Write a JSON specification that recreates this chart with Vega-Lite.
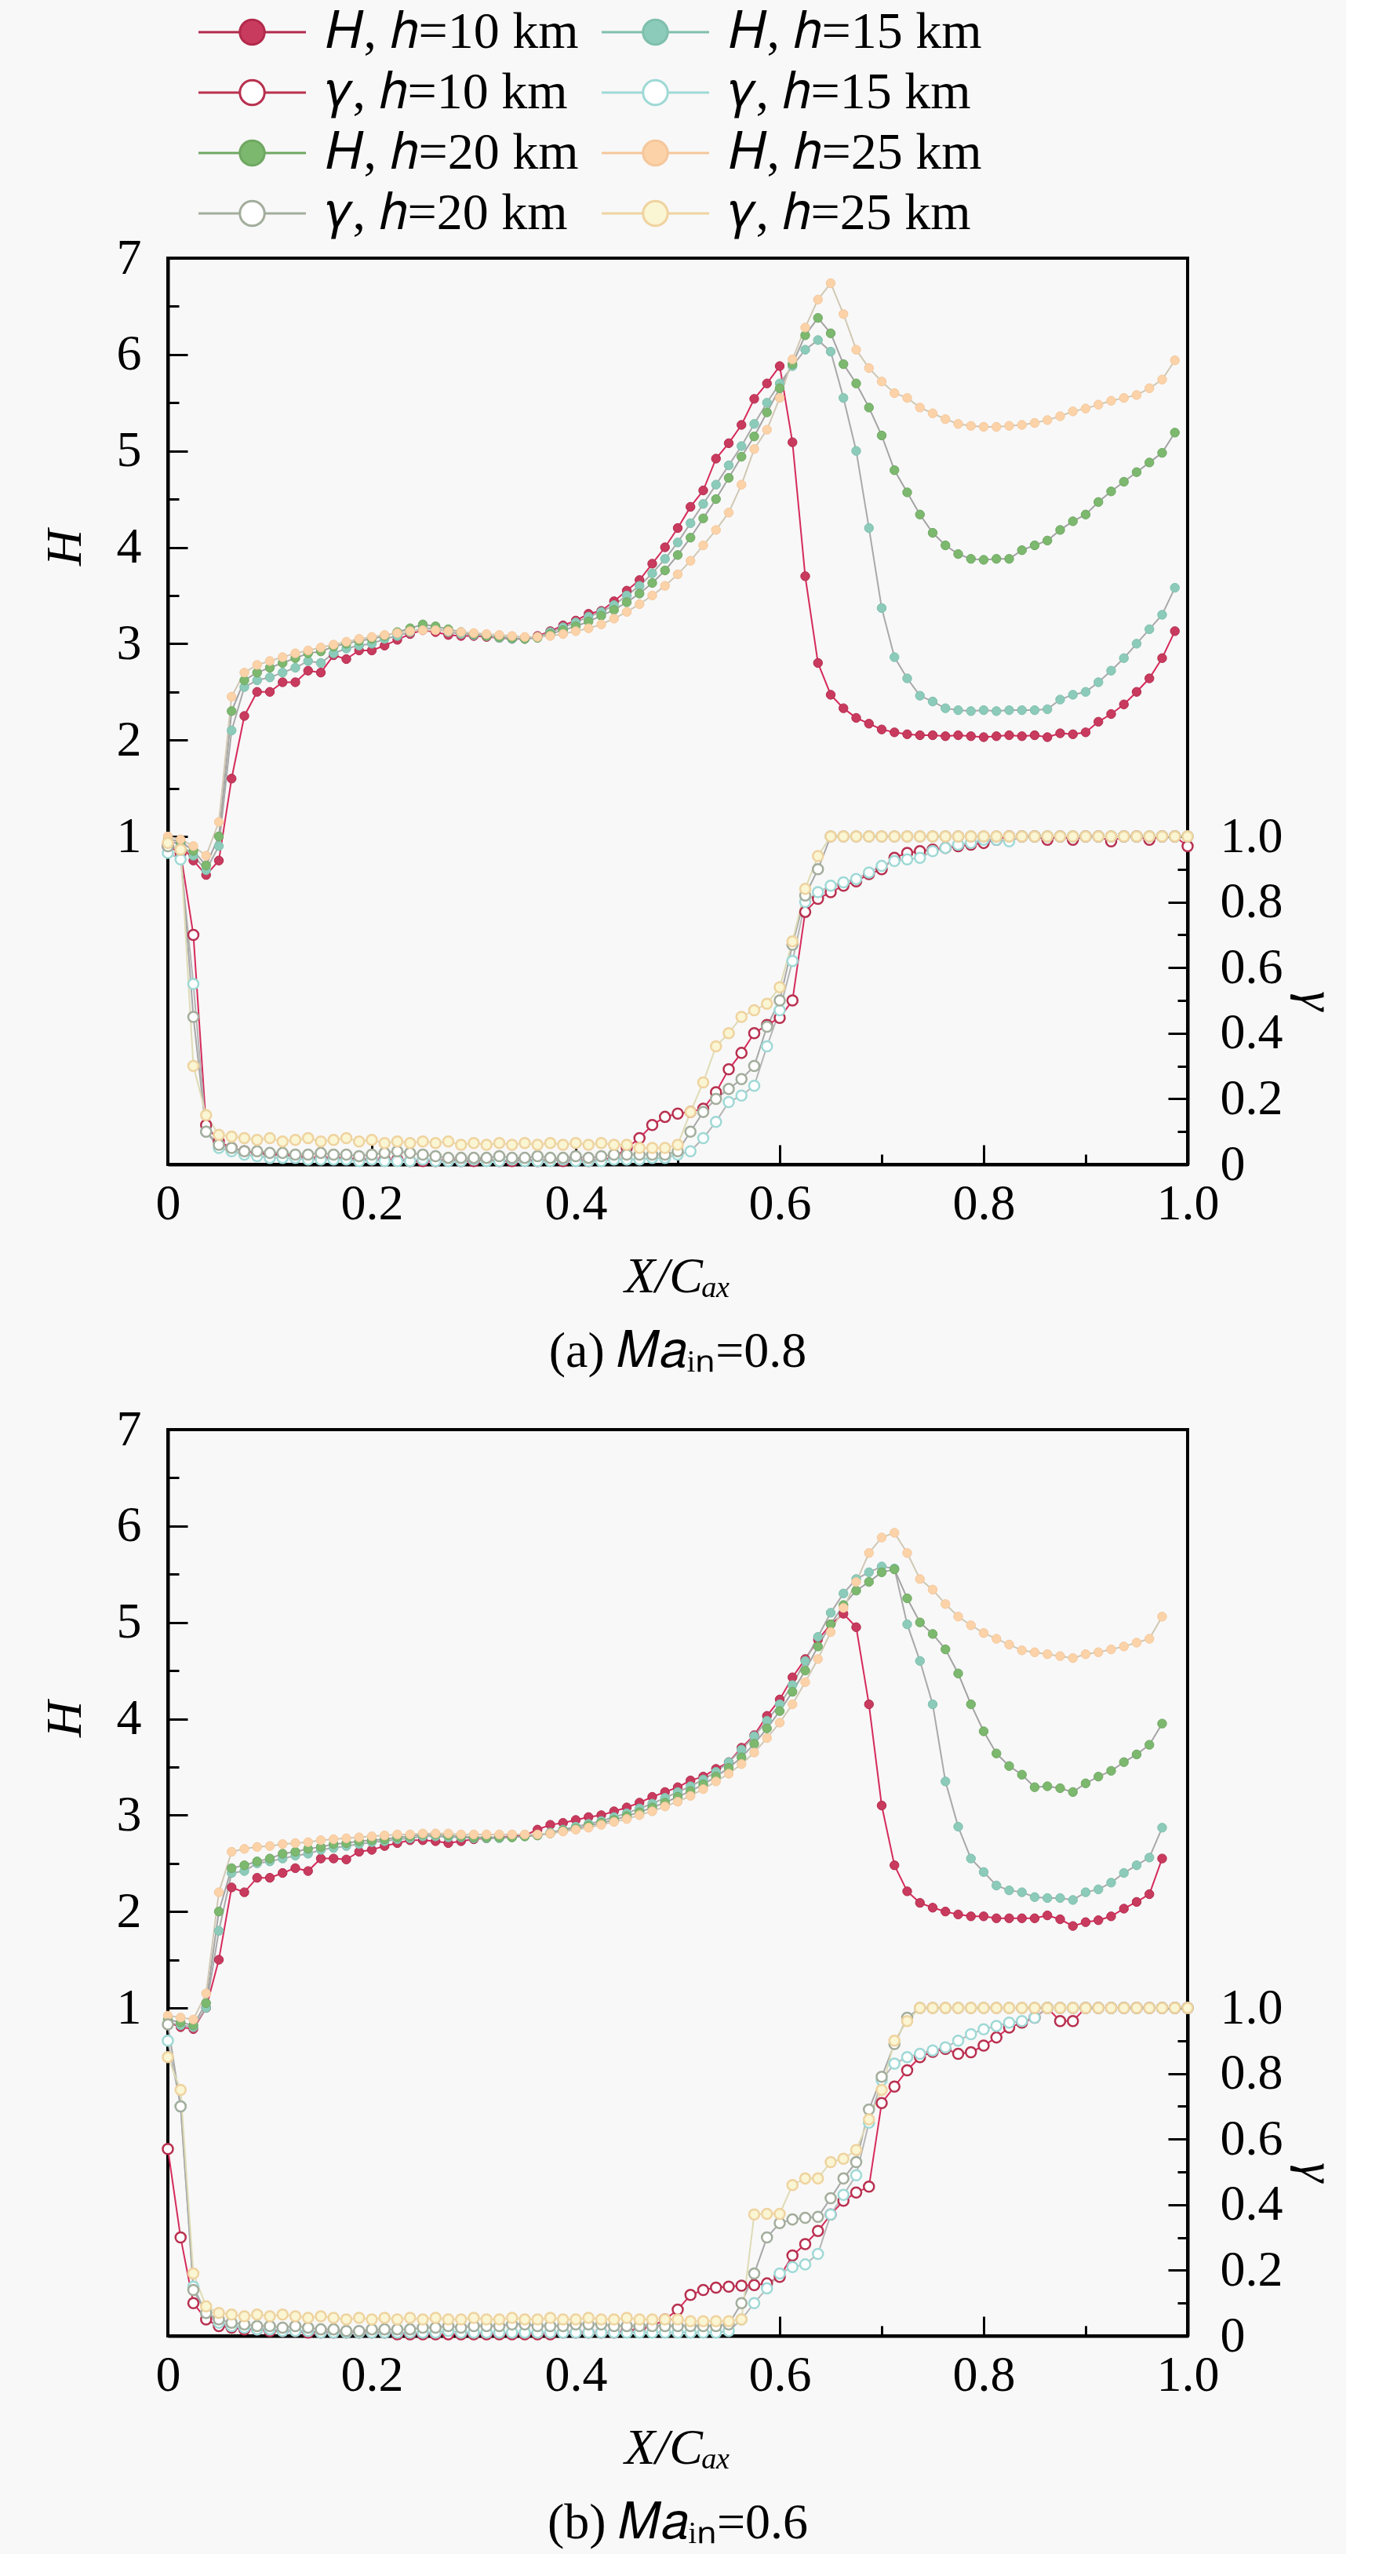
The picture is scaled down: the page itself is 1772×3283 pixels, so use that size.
{
  "$schema": "https://vega.github.io/schema/vega-lite/v6.json",
  "background": "#f8f8f8",
  "padding": {"left": 49, "top": 6, "right": 5, "bottom": 5},
  "config": {
    "font": "Liberation Serif",
    "view": {"stroke": "black", "strokeWidth": 4},
    "axis": {
      "domainColor": "black", "domainWidth": 4, "tickColor": "black", "tickWidth": 3,
      "labelColor": "black", "labelFont": "Liberation Serif", "labelFontSize": 64,
      "titleFont": "Liberation Serif", "titleFontSize": 64, "titleFontWeight": "normal", "titleFontStyle": "italic", "titleColor": "black",
      "grid": false, "labelFlush": false, "labelOverlap": false, "labelBound": false
    },
    "legend": {
      "orient": "none", "legendX": 39, "legendY": -321, "columns": 2,
      "symbolType": "M-2.175,0L-0.5,0M0.5,0L2.175,0M0.5,0A0.5,0.5,0,1,1,-0.5,0A0.5,0.5,0,1,1,0.5,0Z",
      "symbolSize": 3969, "symbolOffset": 35.5, "symbolStrokeWidth": 3, "labelFont": "Liberation Serif", "labelFontSize": 66,
      "labelColor": "black", "labelOffset": 61, "labelLimit": 0, "rowPadding": 11, "columnPadding": 18, "padding": 0
    },
    "title": {"font": "Liberation Serif", "fontSize": 64, "fontWeight": "normal", "color": "black", "orient": "bottom", "anchor": "middle", "frame": "group", "offset": 32}
  },
  "datasets": {
    "pa": [
      {"x":0,"a":0.95,"b":0.95,"c":0.97,"d":1,"e":0.97,"f":0.95,"g":0.97,"h":0.98},
      {"x":0.0125,"a":0.92,"b":0.92,"c":0.95,"d":0.97,"e":0.95,"f":0.93,"g":0.96,"h":0.96},
      {"x":0.025,"a":0.75,"b":0.8,"c":0.85,"d":0.9,"e":0.7,"f":0.55,"g":0.45,"h":0.3},
      {"x":0.0375,"a":0.6,"b":0.65,"c":0.7,"d":0.8,"e":0.12,"f":0.1,"g":0.1,"h":0.15},
      {"x":0.05,"a":0.75,"b":0.9,"c":1,"d":1.15,"e":0.07,"f":0.05,"g":0.06,"h":0.09},
      {"x":0.0625,"a":1.6,"b":2.1,"c":2.3,"d":2.45,"e":0.05,"f":0.04,"g":0.05,"h":0.085},
      {"x":0.075,"a":2.25,"b":2.55,"c":2.62,"d":2.7,"e":0.04,"f":0.03,"g":0.04,"h":0.08},
      {"x":0.0875,"a":2.5,"b":2.62,"c":2.7,"d":2.78,"e":0.035,"f":0.025,"g":0.04,"h":0.075},
      {"x":0.1,"a":2.5,"b":2.65,"c":2.75,"d":2.82,"e":0.03,"f":0.02,"g":0.035,"h":0.08},
      {"x":0.1125,"a":2.6,"b":2.7,"c":2.8,"d":2.86,"e":0.03,"f":0.02,"g":0.035,"h":0.07},
      {"x":0.125,"a":2.6,"b":2.75,"c":2.85,"d":2.9,"e":0.025,"f":0.02,"g":0.03,"h":0.075},
      {"x":0.1375,"a":2.72,"b":2.82,"c":2.9,"d":2.93,"e":0.02,"f":0.015,"g":0.03,"h":0.08},
      {"x":0.15,"a":2.7,"b":2.8,"c":2.92,"d":2.96,"e":0.02,"f":0.015,"g":0.035,"h":0.07},
      {"x":0.1625,"a":2.88,"b":2.9,"c":2.97,"d":2.99,"e":0.02,"f":0.015,"g":0.03,"h":0.075},
      {"x":0.175,"a":2.84,"b":2.95,"c":3,"d":3.02,"e":0.02,"f":0.015,"g":0.03,"h":0.08},
      {"x":0.1875,"a":2.93,"b":2.98,"c":3.03,"d":3.05,"e":0.015,"f":0.01,"g":0.025,"h":0.07},
      {"x":0.2,"a":2.93,"b":3,"c":3.05,"d":3.07,"e":0.015,"f":0.015,"g":0.03,"h":0.075},
      {"x":0.2125,"a":2.98,"b":3.05,"c":3.08,"d":3.09,"e":0.015,"f":0.01,"g":0.035,"h":0.065},
      {"x":0.225,"a":3.04,"b":3.08,"c":3.12,"d":3.11,"e":0.015,"f":0.01,"g":0.04,"h":0.07},
      {"x":0.2375,"a":3.1,"b":3.12,"c":3.16,"d":3.13,"e":0.01,"f":0.01,"g":0.035,"h":0.065},
      {"x":0.25,"a":3.14,"b":3.16,"c":3.2,"d":3.14,"e":0.01,"f":0.015,"g":0.03,"h":0.07},
      {"x":0.2625,"a":3.12,"b":3.16,"c":3.18,"d":3.14,"e":0.01,"f":0.01,"g":0.025,"h":0.065},
      {"x":0.275,"a":3.09,"b":3.12,"c":3.15,"d":3.13,"e":0.015,"f":0.01,"g":0.02,"h":0.07},
      {"x":0.2875,"a":3.08,"b":3.1,"c":3.12,"d":3.12,"e":0.01,"f":0.01,"g":0.02,"h":0.06},
      {"x":0.3,"a":3.08,"b":3.09,"c":3.1,"d":3.11,"e":0.01,"f":0.015,"g":0.02,"h":0.065},
      {"x":0.3125,"a":3.07,"b":3.08,"c":3.08,"d":3.1,"e":0.015,"f":0.01,"g":0.02,"h":0.06},
      {"x":0.325,"a":3.06,"b":3.06,"c":3.07,"d":3.09,"e":0.01,"f":0.01,"g":0.025,"h":0.065},
      {"x":0.3375,"a":3.05,"b":3.05,"c":3.06,"d":3.08,"e":0.01,"f":0.015,"g":0.02,"h":0.06},
      {"x":0.35,"a":3.05,"b":3.05,"c":3.05,"d":3.07,"e":0.015,"f":0.01,"g":0.02,"h":0.065},
      {"x":0.3625,"a":3.08,"b":3.07,"c":3.06,"d":3.07,"e":0.01,"f":0.01,"g":0.025,"h":0.06},
      {"x":0.375,"a":3.13,"b":3.12,"c":3.1,"d":3.08,"e":0.015,"f":0.01,"g":0.02,"h":0.065},
      {"x":0.3875,"a":3.19,"b":3.17,"c":3.14,"d":3.1,"e":0.01,"f":0.015,"g":0.02,"h":0.06},
      {"x":0.4,"a":3.24,"b":3.22,"c":3.18,"d":3.13,"e":0.015,"f":0.01,"g":0.025,"h":0.065},
      {"x":0.4125,"a":3.31,"b":3.28,"c":3.23,"d":3.16,"e":0.01,"f":0.01,"g":0.02,"h":0.06},
      {"x":0.425,"a":3.34,"b":3.33,"c":3.29,"d":3.2,"e":0.015,"f":0.01,"g":0.025,"h":0.065},
      {"x":0.4375,"a":3.44,"b":3.4,"c":3.35,"d":3.26,"e":0.02,"f":0.015,"g":0.03,"h":0.06},
      {"x":0.45,"a":3.55,"b":3.5,"c":3.43,"d":3.33,"e":0.05,"f":0.015,"g":0.03,"h":0.06},
      {"x":0.4625,"a":3.66,"b":3.6,"c":3.52,"d":3.41,"e":0.08,"f":0.015,"g":0.03,"h":0.05},
      {"x":0.475,"a":3.83,"b":3.73,"c":3.63,"d":3.5,"e":0.12,"f":0.02,"g":0.03,"h":0.05},
      {"x":0.4875,"a":4,"b":3.88,"c":3.76,"d":3.6,"e":0.145,"f":0.02,"g":0.03,"h":0.05},
      {"x":0.5,"a":4.2,"b":4.05,"c":3.92,"d":3.72,"e":0.155,"f":0.03,"g":0.04,"h":0.06},
      {"x":0.5125,"a":4.42,"b":4.25,"c":4.1,"d":3.86,"e":0.16,"f":0.04,"g":0.1,"h":0.16},
      {"x":0.525,"a":4.59,"b":4.45,"c":4.3,"d":4.02,"e":0.17,"f":0.08,"g":0.16,"h":0.25},
      {"x":0.5375,"a":4.92,"b":4.65,"c":4.5,"d":4.18,"e":0.22,"f":0.13,"g":0.2,"h":0.36},
      {"x":0.55,"a":5.08,"b":4.85,"c":4.72,"d":4.36,"e":0.29,"f":0.19,"g":0.23,"h":0.4},
      {"x":0.5625,"a":5.27,"b":5.05,"c":4.94,"d":4.65,"e":0.34,"f":0.21,"g":0.26,"h":0.45},
      {"x":0.575,"a":5.54,"b":5.28,"c":5.15,"d":5.02,"e":0.4,"f":0.24,"g":0.3,"h":0.47},
      {"x":0.5875,"a":5.7,"b":5.5,"c":5.4,"d":5.22,"e":0.425,"f":0.36,"g":0.42,"h":0.49},
      {"x":0.6,"a":5.88,"b":5.7,"c":5.65,"d":5.55,"e":0.447,"f":0.47,"g":0.5,"h":0.54},
      {"x":0.6125,"a":5.09,"b":5.88,"c":5.9,"d":5.95,"e":0.5,"f":0.62,"g":0.67,"h":0.68},
      {"x":0.625,"a":3.7,"b":6.05,"c":6.2,"d":6.28,"e":0.77,"f":0.8,"g":0.82,"h":0.84},
      {"x":0.6375,"a":2.8,"b":6.15,"c":6.38,"d":6.57,"e":0.81,"f":0.83,"g":0.9,"h":0.94},
      {"x":0.65,"a":2.47,"b":6.03,"c":6.22,"d":6.74,"e":0.83,"f":0.85,"g":1,"h":1},
      {"x":0.6625,"a":2.33,"b":5.55,"c":5.9,"d":6.42,"e":0.85,"f":0.86,"g":1,"h":1},
      {"x":0.675,"a":2.23,"b":5,"c":5.7,"d":6.05,"e":0.863,"f":0.87,"g":1,"h":1},
      {"x":0.6875,"a":2.17,"b":4.2,"c":5.45,"d":5.86,"e":0.885,"f":0.89,"g":1,"h":1},
      {"x":0.7,"a":2.11,"b":3.37,"c":5.16,"d":5.72,"e":0.9,"f":0.91,"g":1,"h":1},
      {"x":0.7125,"a":2.08,"b":2.86,"c":4.8,"d":5.6,"e":0.935,"f":0.925,"g":1,"h":1},
      {"x":0.725,"a":2.06,"b":2.64,"c":4.57,"d":5.55,"e":0.95,"f":0.93,"g":1,"h":1},
      {"x":0.7375,"a":2.05,"b":2.46,"c":4.34,"d":5.45,"e":0.955,"f":0.935,"g":1,"h":1},
      {"x":0.75,"a":2.05,"b":2.4,"c":4.15,"d":5.39,"e":0.96,"f":0.955,"g":1,"h":1},
      {"x":0.7625,"a":2.04,"b":2.33,"c":4.02,"d":5.33,"e":0.965,"f":0.965,"g":1,"h":1},
      {"x":0.775,"a":2.05,"b":2.31,"c":3.93,"d":5.28,"e":0.97,"f":0.975,"g":1,"h":1},
      {"x":0.7875,"a":2.04,"b":2.3,"c":3.88,"d":5.26,"e":0.975,"f":0.98,"g":1,"h":1},
      {"x":0.8,"a":2.03,"b":2.31,"c":3.87,"d":5.25,"e":0.98,"f":0.99,"g":1,"h":1},
      {"x":0.8125,"a":2.04,"b":2.3,"c":3.88,"d":5.25,"e":0.99,"f":0.99,"g":1,"h":1},
      {"x":0.825,"a":2.05,"b":2.31,"c":3.88,"d":5.26,"e":1,"f":0.985,"g":1,"h":1},
      {"x":0.8375,"a":2.04,"b":2.31,"c":3.97,"d":5.27,"e":1,"f":1,"g":1,"h":1},
      {"x":0.85,"a":2.05,"b":2.31,"c":4.02,"d":5.29,"e":1,"f":1,"g":1,"h":1},
      {"x":0.8625,"a":2.03,"b":2.32,"c":4.07,"d":5.32,"e":0.99,"f":1,"g":1,"h":1},
      {"x":0.875,"a":2.07,"b":2.42,"c":4.18,"d":5.36,"e":1,"f":1,"g":1,"h":1},
      {"x":0.8875,"a":2.06,"b":2.47,"c":4.27,"d":5.41,"e":0.99,"f":1,"g":1,"h":1},
      {"x":0.9,"a":2.08,"b":2.5,"c":4.34,"d":5.44,"e":1,"f":1,"g":1,"h":1},
      {"x":0.9125,"a":2.19,"b":2.6,"c":4.47,"d":5.48,"e":1,"f":1,"g":1,"h":1},
      {"x":0.925,"a":2.27,"b":2.72,"c":4.58,"d":5.52,"e":0.985,"f":1,"g":1,"h":1},
      {"x":0.9375,"a":2.37,"b":2.85,"c":4.68,"d":5.55,"e":1,"f":1,"g":1,"h":1},
      {"x":0.95,"a":2.5,"b":3,"c":4.78,"d":5.58,"e":1,"f":1,"g":1,"h":1},
      {"x":0.9625,"a":2.64,"b":3.15,"c":4.88,"d":5.65,"e":0.99,"f":1,"g":1,"h":1},
      {"x":0.975,"a":2.85,"b":3.3,"c":4.98,"d":5.74,"e":1,"f":1,"g":1,"h":1},
      {"x":0.9875,"a":3.13,"b":3.58,"c":5.19,"d":5.94,"e":1,"f":1,"g":1,"h":1},
      {"x":1,"e":0.97,"f":1,"g":1,"h":1}
    ],
    "pb": [
      {"x":0,"a":0.85,"b":0.85,"c":0.88,"d":0.92,"e":0.57,"f":0.9,"g":0.95,"h":0.85},
      {"x":0.0125,"a":0.8,"b":0.82,"c":0.85,"d":0.9,"e":0.3,"f":0.7,"g":0.7,"h":0.75},
      {"x":0.025,"a":0.78,"b":0.8,"c":0.82,"d":0.88,"e":0.1,"f":0.15,"g":0.14,"h":0.19},
      {"x":0.0375,"a":1,"b":1,"c":1.05,"d":1.15,"e":0.05,"f":0.07,"g":0.07,"h":0.09},
      {"x":0.05,"a":1.5,"b":1.8,"c":2,"d":2.2,"e":0.03,"f":0.04,"g":0.05,"h":0.07},
      {"x":0.0625,"a":2.25,"b":2.4,"c":2.45,"d":2.62,"e":0.025,"f":0.03,"g":0.04,"h":0.065},
      {"x":0.075,"a":2.2,"b":2.42,"c":2.48,"d":2.65,"e":0.02,"f":0.025,"g":0.035,"h":0.06},
      {"x":0.0875,"a":2.35,"b":2.5,"c":2.52,"d":2.67,"e":0.02,"f":0.02,"g":0.03,"h":0.065},
      {"x":0.1,"a":2.35,"b":2.52,"c":2.55,"d":2.68,"e":0.015,"f":0.02,"g":0.03,"h":0.06},
      {"x":0.1125,"a":2.4,"b":2.55,"c":2.6,"d":2.7,"e":0.015,"f":0.015,"g":0.025,"h":0.065},
      {"x":0.125,"a":2.45,"b":2.58,"c":2.62,"d":2.71,"e":0.015,"f":0.015,"g":0.03,"h":0.06},
      {"x":0.1375,"a":2.42,"b":2.6,"c":2.65,"d":2.72,"e":0.01,"f":0.015,"g":0.025,"h":0.055},
      {"x":0.15,"a":2.55,"b":2.64,"c":2.67,"d":2.74,"e":0.01,"f":0.01,"g":0.02,"h":0.06},
      {"x":0.1625,"a":2.55,"b":2.66,"c":2.7,"d":2.75,"e":0.01,"f":0.01,"g":0.02,"h":0.055},
      {"x":0.175,"a":2.54,"b":2.68,"c":2.71,"d":2.76,"e":0.01,"f":0.01,"g":0.015,"h":0.05},
      {"x":0.1875,"a":2.62,"b":2.7,"c":2.73,"d":2.77,"e":0.01,"f":0.01,"g":0.015,"h":0.055},
      {"x":0.2,"a":2.64,"b":2.72,"c":2.74,"d":2.78,"e":0.01,"f":0.01,"g":0.02,"h":0.05},
      {"x":0.2125,"a":2.68,"b":2.73,"c":2.75,"d":2.79,"e":0.01,"f":0.01,"g":0.02,"h":0.055},
      {"x":0.225,"a":2.71,"b":2.75,"c":2.77,"d":2.8,"e":0.005,"f":0.01,"g":0.02,"h":0.05},
      {"x":0.2375,"a":2.74,"b":2.76,"c":2.78,"d":2.8,"e":0.005,"f":0.01,"g":0.02,"h":0.055},
      {"x":0.25,"a":2.74,"b":2.78,"c":2.8,"d":2.81,"e":0.005,"f":0.01,"g":0.025,"h":0.05},
      {"x":0.2625,"a":2.73,"b":2.78,"c":2.8,"d":2.81,"e":0.005,"f":0.01,"g":0.025,"h":0.055},
      {"x":0.275,"a":2.71,"b":2.77,"c":2.79,"d":2.81,"e":0.005,"f":0.015,"g":0.03,"h":0.05},
      {"x":0.2875,"a":2.73,"b":2.77,"c":2.78,"d":2.8,"e":0.005,"f":0.01,"g":0.025,"h":0.05},
      {"x":0.3,"a":2.75,"b":2.76,"c":2.77,"d":2.8,"e":0.005,"f":0.01,"g":0.03,"h":0.055},
      {"x":0.3125,"a":2.76,"b":2.76,"c":2.77,"d":2.8,"e":0.005,"f":0.01,"g":0.03,"h":0.05},
      {"x":0.325,"a":2.77,"b":2.76,"c":2.77,"d":2.8,"e":0.005,"f":0.01,"g":0.03,"h":0.05},
      {"x":0.3375,"a":2.78,"b":2.77,"c":2.77,"d":2.8,"e":0.005,"f":0.01,"g":0.035,"h":0.055},
      {"x":0.35,"a":2.79,"b":2.78,"c":2.78,"d":2.8,"e":0.005,"f":0.01,"g":0.035,"h":0.05},
      {"x":0.3625,"a":2.85,"b":2.79,"c":2.79,"d":2.8,"e":0.005,"f":0.01,"g":0.03,"h":0.05},
      {"x":0.375,"a":2.9,"b":2.82,"c":2.81,"d":2.81,"e":0.005,"f":0.01,"g":0.03,"h":0.055},
      {"x":0.3875,"a":2.92,"b":2.85,"c":2.84,"d":2.83,"e":0.01,"f":0.01,"g":0.03,"h":0.05},
      {"x":0.4,"a":2.95,"b":2.88,"c":2.86,"d":2.85,"e":0.01,"f":0.01,"g":0.035,"h":0.05},
      {"x":0.4125,"a":2.98,"b":2.91,"c":2.89,"d":2.87,"e":0.01,"f":0.01,"g":0.035,"h":0.055},
      {"x":0.425,"a":3,"b":2.94,"c":2.92,"d":2.9,"e":0.01,"f":0.01,"g":0.035,"h":0.05},
      {"x":0.4375,"a":3.04,"b":2.98,"c":2.95,"d":2.93,"e":0.01,"f":0.01,"g":0.03,"h":0.05},
      {"x":0.45,"a":3.08,"b":3.02,"c":2.99,"d":2.96,"e":0.015,"f":0.01,"g":0.03,"h":0.055},
      {"x":0.4625,"a":3.13,"b":3.07,"c":3.03,"d":3,"e":0.02,"f":0.01,"g":0.03,"h":0.05},
      {"x":0.475,"a":3.19,"b":3.12,"c":3.08,"d":3.04,"e":0.03,"f":0.01,"g":0.03,"h":0.05},
      {"x":0.4875,"a":3.24,"b":3.18,"c":3.13,"d":3.09,"e":0.05,"f":0.01,"g":0.03,"h":0.05},
      {"x":0.5,"a":3.29,"b":3.24,"c":3.19,"d":3.14,"e":0.08,"f":0.01,"g":0.03,"h":0.05},
      {"x":0.5125,"a":3.36,"b":3.3,"c":3.25,"d":3.2,"e":0.125,"f":0.01,"g":0.03,"h":0.045},
      {"x":0.525,"a":3.4,"b":3.37,"c":3.32,"d":3.27,"e":0.14,"f":0.01,"g":0.03,"h":0.045},
      {"x":0.5375,"a":3.48,"b":3.45,"c":3.4,"d":3.35,"e":0.147,"f":0.01,"g":0.03,"h":0.045},
      {"x":0.55,"a":3.55,"b":3.55,"c":3.49,"d":3.43,"e":0.15,"f":0.015,"g":0.035,"h":0.045},
      {"x":0.5625,"a":3.7,"b":3.68,"c":3.6,"d":3.53,"e":0.153,"f":0.05,"g":0.1,"h":0.05},
      {"x":0.575,"a":3.83,"b":3.82,"c":3.74,"d":3.65,"e":0.155,"f":0.1,"g":0.19,"h":0.37},
      {"x":0.5875,"a":4.03,"b":3.98,"c":3.9,"d":3.8,"e":0.16,"f":0.145,"g":0.3,"h":0.372},
      {"x":0.6,"a":4.2,"b":4.15,"c":4.08,"d":3.96,"e":0.18,"f":0.19,"g":0.344,"h":0.372},
      {"x":0.6125,"a":4.43,"b":4.35,"c":4.28,"d":4.15,"e":0.245,"f":0.21,"g":0.355,"h":0.46},
      {"x":0.625,"a":4.62,"b":4.6,"c":4.5,"d":4.38,"e":0.28,"f":0.218,"g":0.36,"h":0.48},
      {"x":0.6375,"a":4.82,"b":4.85,"c":4.75,"d":4.62,"e":0.32,"f":0.25,"g":0.363,"h":0.48},
      {"x":0.65,"a":4.98,"b":5.1,"c":4.98,"d":4.9,"e":0.37,"f":0.37,"g":0.42,"h":0.53},
      {"x":0.6625,"a":5.09,"b":5.3,"c":5.18,"d":5.15,"e":0.412,"f":0.43,"g":0.48,"h":0.54},
      {"x":0.675,"a":4.95,"b":5.45,"c":5.33,"d":5.42,"e":0.437,"f":0.49,"g":0.53,"h":0.567},
      {"x":0.6875,"a":4.15,"b":5.52,"c":5.42,"d":5.72,"e":0.455,"f":0.65,"g":0.69,"h":0.66},
      {"x":0.7,"a":3.1,"b":5.58,"c":5.52,"d":5.88,"e":0.71,"f":0.78,"g":0.79,"h":0.75},
      {"x":0.7125,"a":2.48,"b":5.56,"c":5.55,"d":5.93,"e":0.76,"f":0.83,"g":0.89,"h":0.9},
      {"x":0.725,"a":2.21,"b":4.98,"c":5.25,"d":5.72,"e":0.81,"f":0.85,"g":0.97,"h":0.96},
      {"x":0.7375,"a":2.09,"b":4.6,"c":5,"d":5.45,"e":0.85,"f":0.86,"g":1,"h":1},
      {"x":0.75,"a":2.04,"b":4.15,"c":4.88,"d":5.34,"e":0.866,"f":0.87,"g":1,"h":1},
      {"x":0.7625,"a":2,"b":3.35,"c":4.72,"d":5.19,"e":0.875,"f":0.88,"g":1,"h":1},
      {"x":0.775,"a":1.97,"b":2.88,"c":4.47,"d":5.06,"e":0.86,"f":0.9,"g":1,"h":1},
      {"x":0.7875,"a":1.95,"b":2.55,"c":4.15,"d":4.97,"e":0.865,"f":0.92,"g":1,"h":1},
      {"x":0.8,"a":1.95,"b":2.41,"c":3.87,"d":4.89,"e":0.885,"f":0.935,"g":1,"h":1},
      {"x":0.8125,"a":1.93,"b":2.27,"c":3.64,"d":4.83,"e":0.91,"f":0.945,"g":1,"h":1},
      {"x":0.825,"a":1.93,"b":2.22,"c":3.51,"d":4.77,"e":0.94,"f":0.955,"g":1,"h":1},
      {"x":0.8375,"a":1.93,"b":2.2,"c":3.42,"d":4.71,"e":0.955,"f":0.96,"g":1,"h":1},
      {"x":0.85,"a":1.93,"b":2.15,"c":3.29,"d":4.69,"e":0.97,"f":0.97,"g":1,"h":1},
      {"x":0.8625,"a":1.96,"b":2.14,"c":3.3,"d":4.67,"e":1,"f":1,"g":1,"h":1},
      {"x":0.875,"a":1.92,"b":2.14,"c":3.28,"d":4.65,"e":0.96,"f":1,"g":1,"h":1},
      {"x":0.8875,"a":1.85,"b":2.12,"c":3.24,"d":4.63,"e":0.96,"f":1,"g":1,"h":1},
      {"x":0.9,"a":1.89,"b":2.2,"c":3.33,"d":4.67,"e":1,"f":1,"g":1,"h":1},
      {"x":0.9125,"a":1.91,"b":2.23,"c":3.4,"d":4.69,"e":1,"f":1,"g":1,"h":1},
      {"x":0.925,"a":1.95,"b":2.3,"c":3.46,"d":4.72,"e":1,"f":1,"g":1,"h":1},
      {"x":0.9375,"a":2.03,"b":2.4,"c":3.55,"d":4.75,"e":1,"f":1,"g":1,"h":1},
      {"x":0.95,"a":2.1,"b":2.48,"c":3.63,"d":4.79,"e":1,"f":1,"g":1,"h":1},
      {"x":0.9625,"a":2.18,"b":2.56,"c":3.73,"d":4.83,"e":1,"f":1,"g":1,"h":1},
      {"x":0.975,"a":2.55,"b":2.87,"c":3.95,"d":5.06,"e":1,"f":1,"g":1,"h":1},
      {"x":0.9875,"e":1,"f":1,"g":1,"h":1},
      {"x":1,"e":1,"f":1,"g":1,"h":1}
    ]
  },
  "spacing": 31,
  "resolve": {"legend": {"stroke": "independent", "fill": "independent"}},
  "vconcat": [
    {
      "width": 1300,
      "height": 1155,
      "data": {"name": "pa"},
      "title": {"text": "(a) 𝑀𝑎ᵢₙ=0.8"},
      "encoding": {
        "x": {
          "field": "x", "type": "quantitative",
          "scale": {"domain": [0, 1], "nice": false, "zero": false},
          "axis": {
            "title": "X/Cₐₓ", "titlePadding": 17, "labelPadding": 43,
            "values": [0, 0.1, 0.2, 0.3, 0.4, 0.5, 0.6, 0.7, 0.8, 0.9, 1],
            "labelExpr": "round(datum.value*10) % 2 ? '' : (datum.value == 0 ? '0' : format(datum.value, '.1f'))",
            "tickSize": {"condition": {"test": "round(datum.value*10) % 2 == 1", "value": -13}, "value": -25}
          }
        }
      },
      "layer": [
        {
          "transform": [{"fold": ["a", "b", "c", "d"], "as": ["s", "v"]}],
          "encoding": {
            "y": {
              "field": "v", "type": "quantitative",
              "scale": {"domain": [1, 7], "range": [737, 0], "nice": false, "zero": false},
              "axis": {
                "orient": "left", "title": "H", "titlePadding": 33, "labelPadding": 59,
                "values": [1, 1.5, 2, 2.5, 3, 3.5, 4, 4.5, 5, 5.5, 6, 6.5, 7],
                "labelExpr": "datum.value % 1 ? '' : format(datum.value, 'd')",
                "tickSize": {"condition": {"test": "datum.value % 1 != 0", "value": -14}, "value": -25}
              }
            }
          },
          "layer": [
            {
              "mark": {"type": "line", "strokeWidth": 2},
              "encoding": {
                "color": {"field": "s", "type": "nominal", "legend": null,
                  "scale": {"domain": ["a","e","c","g","b","f","d","h"], "range": ["#d52b5b","#d52b5b","#a3a3a3","#a8a8a8","#a9a9a9","#b5b5b5","#d0c8b4","#dedbb5"]}}
              }
            },
            {
              "mark": {"type": "point", "filled": true, "size": 130, "strokeWidth": 1, "opacity": 1},
              "encoding": {
                "stroke": {"field": "s", "type": "nominal",
                  "scale": {"domain": ["a","e","c","g","b","f","d","h"], "range": ["#b22a4c","#b8304f","#6fa862","#a3ad9c","#7fbfae","#9fd9d6","#f5c79b","#efd39f"]},
                  "legend": {"title": null, "labelExpr": "{'a':'𝐻, ℎ=10 km','b':'𝐻, ℎ=15 km','c':'𝐻, ℎ=20 km','d':'𝐻, ℎ=25 km','e':'𝛾, ℎ=10 km','f':'𝛾, ℎ=15 km','g':'𝛾, ℎ=20 km','h':'𝛾, ℎ=25 km'}[datum.label]"}},
                "fill": {"field": "s", "type": "nominal",
                  "scale": {"domain": ["a","e","c","g","b","f","d","h"], "range": ["#c93b5e","#ffffff","#7db86f","#ffffff","#8ccbb9","#ffffff","#fcd3a9","#faf5d2"]},
                  "legend": {"title": null, "labelExpr": "{'a':'𝐻, ℎ=10 km','b':'𝐻, ℎ=15 km','c':'𝐻, ℎ=20 km','d':'𝐻, ℎ=25 km','e':'𝛾, ℎ=10 km','f':'𝛾, ℎ=15 km','g':'𝛾, ℎ=20 km','h':'𝛾, ℎ=25 km'}[datum.label]"}}
              }
            },
            {
              "data": {"values": [{}]},
              "mark": {"type": "rule", "strokeWidth": 4, "color": "black"},
              "encoding": {"x": {"datum": 0}, "x2": {"datum": 1}, "y": {"datum": 1}}
            }
          ]
        },
        {
          "transform": [{"fold": ["e", "f", "g", "h"], "as": ["s", "v"]}],
          "encoding": {
            "y": {
              "field": "v", "type": "quantitative",
              "scale": {"domain": [0, 1], "range": [1155, 737], "nice": false, "zero": false},
              "axis": {
                "orient": "right", "title": "γ", "titlePadding": 10, "labelPadding": 66,
                "values": [0, 0.1, 0.2, 0.3, 0.4, 0.5, 0.6, 0.7, 0.8, 0.9, 1],
                "labelExpr": "round(datum.value*10) % 2 ? '' : (datum.value == 0 ? '0' : format(datum.value, '.1f'))",
                "tickSize": {"condition": {"test": "round(datum.value*10) % 2 == 1", "value": -13}, "value": -25}
              }
            }
          },
          "layer": [
            {
              "mark": {"type": "line", "strokeWidth": 2},
              "encoding": {"color": {"field": "s", "type": "nominal", "legend": null}}
            },
            {
              "mark": {"type": "point", "filled": false, "size": 170, "strokeWidth": 2.5, "opacity": 1},
              "encoding": {
                "stroke": {"field": "s", "type": "nominal",
                  "legend": {"title": null, "labelExpr": "{'a':'𝐻, ℎ=10 km','b':'𝐻, ℎ=15 km','c':'𝐻, ℎ=20 km','d':'𝐻, ℎ=25 km','e':'𝛾, ℎ=10 km','f':'𝛾, ℎ=15 km','g':'𝛾, ℎ=20 km','h':'𝛾, ℎ=25 km'}[datum.label]"}},
                "fill": {"field": "s", "type": "nominal",
                  "legend": {"title": null, "labelExpr": "{'a':'𝐻, ℎ=10 km','b':'𝐻, ℎ=15 km','c':'𝐻, ℎ=20 km','d':'𝐻, ℎ=25 km','e':'𝛾, ℎ=10 km','f':'𝛾, ℎ=15 km','g':'𝛾, ℎ=20 km','h':'𝛾, ℎ=25 km'}[datum.label]"}}
              }
            }
          ]
        }
      ],
      "resolve": {"scale": {"y": "independent"}}
    },
    {
      "width": 1300,
      "height": 1155,
      "data": {"name": "pb"},
      "title": {"text": "(b) 𝑀𝑎ᵢₙ=0.6"},
      "encoding": {
        "x": {
          "field": "x", "type": "quantitative",
          "scale": {"domain": [0, 1], "nice": false, "zero": false},
          "axis": {
            "title": "X/Cₐₓ", "titlePadding": 17, "labelPadding": 43,
            "values": [0, 0.1, 0.2, 0.3, 0.4, 0.5, 0.6, 0.7, 0.8, 0.9, 1],
            "labelExpr": "round(datum.value*10) % 2 ? '' : (datum.value == 0 ? '0' : format(datum.value, '.1f'))",
            "tickSize": {"condition": {"test": "round(datum.value*10) % 2 == 1", "value": -13}, "value": -25}
          }
        }
      },
      "layer": [
        {
          "transform": [{"fold": ["a", "b", "c", "d"], "as": ["s", "v"]}],
          "encoding": {
            "y": {
              "field": "v", "type": "quantitative",
              "scale": {"domain": [1, 7], "range": [737, 0], "nice": false, "zero": false},
              "axis": {
                "orient": "left", "title": "H", "titlePadding": 33, "labelPadding": 59,
                "values": [1, 1.5, 2, 2.5, 3, 3.5, 4, 4.5, 5, 5.5, 6, 6.5, 7],
                "labelExpr": "datum.value % 1 ? '' : format(datum.value, 'd')",
                "tickSize": {"condition": {"test": "datum.value % 1 != 0", "value": -14}, "value": -25}
              }
            }
          },
          "layer": [
            {
              "mark": {"type": "line", "strokeWidth": 2},
              "encoding": {"color": {"field": "s", "type": "nominal", "legend": null}}
            },
            {
              "mark": {"type": "point", "filled": true, "size": 130, "strokeWidth": 1, "opacity": 1},
              "encoding": {
                "stroke": {"field": "s", "type": "nominal", "legend": null},
                "fill": {"field": "s", "type": "nominal", "legend": null}
              }
            },
            {
              "data": {"values": [{}]},
              "mark": {"type": "rule", "strokeWidth": 4, "color": "black"},
              "encoding": {"x": {"datum": 0}, "x2": {"datum": 1}, "y": {"datum": 1}}
            }
          ]
        },
        {
          "transform": [{"fold": ["e", "f", "g", "h"], "as": ["s", "v"]}],
          "encoding": {
            "y": {
              "field": "v", "type": "quantitative",
              "scale": {"domain": [0, 1], "range": [1155, 737], "nice": false, "zero": false},
              "axis": {
                "orient": "right", "title": "γ", "titlePadding": 10, "labelPadding": 66,
                "values": [0, 0.1, 0.2, 0.3, 0.4, 0.5, 0.6, 0.7, 0.8, 0.9, 1],
                "labelExpr": "round(datum.value*10) % 2 ? '' : (datum.value == 0 ? '0' : format(datum.value, '.1f'))",
                "tickSize": {"condition": {"test": "round(datum.value*10) % 2 == 1", "value": -13}, "value": -25}
              }
            }
          },
          "layer": [
            {
              "mark": {"type": "line", "strokeWidth": 2},
              "encoding": {"color": {"field": "s", "type": "nominal", "legend": null}}
            },
            {
              "mark": {"type": "point", "filled": false, "size": 170, "strokeWidth": 2.5, "opacity": 1},
              "encoding": {
                "stroke": {"field": "s", "type": "nominal", "legend": null},
                "fill": {"field": "s", "type": "nominal", "legend": null}
              }
            }
          ]
        }
      ],
      "resolve": {"scale": {"y": "independent"}}
    }
  ]
}
